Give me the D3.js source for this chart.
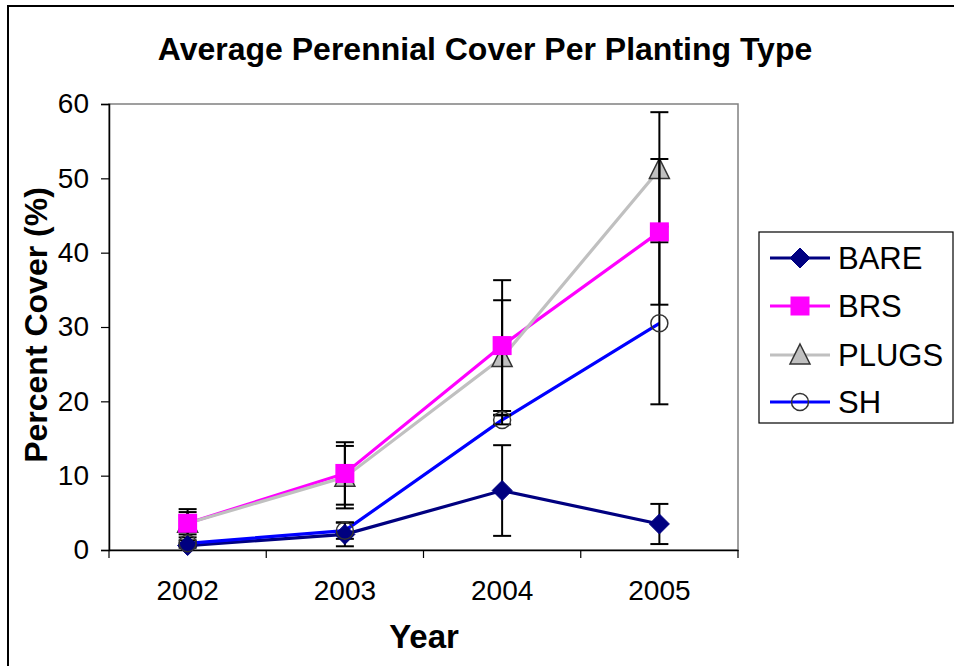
<!DOCTYPE html>
<html>
<head>
<meta charset="utf-8">
<script src="https://cdn.jsdelivr.net/npm/d3@7"></script>
<style>
  html, body { margin: 0; padding: 0; background: #fff; }
  svg { display: block; font-family: "Liberation Sans", Arial, sans-serif; }
</style>
</head>
<body>
<svg id="chart" width="954" height="666"></svg>
<script>
// Survey years on the x axis
const years = ["2002", "2003", "2004", "2005"];
// Mean perennial cover (%) per planting type
const bare  = [0.6, 2.1, 8.0, 3.5];
const brs   = [3.6, 10.3, 27.5, 42.8];
const plugs = [3.6, 9.8, 25.9, 51.2];
const sh    = [0.9, 2.6, 17.5, 30.5];
// Error bar half-widths (%)
const bareErr  = [0.3, 1.6, 6.1, 2.7];
const brsErr   = [1.9, 4.2, 8.8, 9.8];
const plugsErr = [1.5, 4.2, 7.7, 7.7];
const shErr    = [0.4, 1.1, 0.6, 10.9];
const yTicks = [0, 10, 20, 30, 40, 50, 60];

const series = [
  { name: "BARE",  values: bare,  err: bareErr,  color: "#000080", marker: "diamond" },
  { name: "BRS",   values: brs,   err: brsErr,   color: "#FF00FF", marker: "square" },
  { name: "PLUGS", values: plugs, err: plugsErr, color: "#C0C0C0", marker: "triangle" },
  { name: "SH",    values: sh,    err: shErr,    color: "#0000FF", marker: "circle" }
];

const svg = d3.select("#chart");
const plot = { left: 109, right: 738, top: 104, bottom: 550 };

const x = d3.scaleBand().domain(years).range([plot.left, plot.right]).padding(0);
const y = d3.scaleLinear().domain([0, 60]).range([plot.bottom, plot.top]);
const cx = d => x(d) + x.bandwidth() / 2;

// Outer chart frame
svg.append("rect")
  .attr("x", 8).attr("y", 6).attr("width", 960).attr("height", 680)
  .attr("fill", "none").attr("stroke", "#000").attr("stroke-width", 2);

// Plot area frame
svg.append("rect")
  .attr("x", plot.left).attr("y", plot.top)
  .attr("width", plot.right - plot.left).attr("height", plot.bottom - plot.top)
  .attr("fill", "none").attr("stroke", "#808080").attr("stroke-width", 1.5);

// Title
svg.append("text")
  .attr("x", 485).attr("y", 60)
  .attr("text-anchor", "middle")
  .attr("font-size", 32).attr("font-weight", "bold")
  .text("Average Perennial Cover Per Planting Type");

// Y axis
const yAxis = d3.axisLeft(y).tickValues(yTicks).tickSize(8).tickPadding(12);
const gy = svg.append("g").attr("transform", `translate(${plot.left},0)`).call(yAxis);
gy.select(".domain").attr("stroke", "#000").attr("stroke-width", 1.5);
gy.selectAll(".tick line").attr("stroke", "#000").attr("stroke-width", 1.2);
gy.selectAll(".tick text").attr("font-size", 28).attr("fill", "#000")
  .attr("font-family", "Liberation Sans, Arial, sans-serif");

// X axis: ticks sit on category boundaries, labels at centres
const xAxis = d3.axisBottom(x).tickSize(0).tickPadding(30);
const gx = svg.append("g").attr("transform", `translate(0,${plot.bottom})`).call(xAxis);
gx.select(".domain").attr("stroke", "#000").attr("stroke-width", 1.5);
gx.selectAll(".tick text").attr("font-size", 28).attr("fill", "#000")
  .attr("font-family", "Liberation Sans, Arial, sans-serif");
const bounds = years.map(d => x(d)).concat([x(years[years.length - 1]) + x.bandwidth()]);
svg.append("g").selectAll("line").data(bounds).join("line")
  .attr("x1", d => d).attr("x2", d => d)
  .attr("y1", plot.bottom).attr("y2", plot.bottom + 8)
  .attr("stroke", "#000").attr("stroke-width", 1.2);

// Axis titles
svg.append("text")
  .attr("x", 424).attr("y", 648)
  .attr("text-anchor", "middle")
  .attr("font-size", 33).attr("font-weight", "bold")
  .text("Year");
svg.append("text")
  .attr("transform", "translate(47,325) rotate(-90)")
  .attr("text-anchor", "middle")
  .attr("font-size", 32).attr("font-weight", "bold")
  .text("Percent Cover (%)");

// Marker drawing helper
function drawMarker(g, type, color, px, py, scale = 1) {
  if (type === "diamond") {
    const s = 10 * scale;
    g.append("path")
      .attr("d", `M${px},${py - s}L${px + s},${py}L${px},${py + s}L${px - s},${py}Z`)
      .attr("fill", color).attr("stroke", color).attr("stroke-width", 1);
  } else if (type === "square") {
    const s = 9.5 * scale;
    g.append("rect")
      .attr("x", px - s).attr("y", py - s).attr("width", 2 * s).attr("height", 2 * s)
      .attr("fill", color);
  } else if (type === "triangle") {
    const s = 10 * scale;
    g.append("path")
      .attr("d", `M${px},${py - s * 1.1}L${px + s},${py + s * 0.9}L${px - s},${py + s * 0.9}Z`)
      .attr("fill", color).attr("stroke", "#333").attr("stroke-width", 1.5);
  } else if (type === "circle") {
    g.append("circle")
      .attr("cx", px).attr("cy", py).attr("r", 8.5 * scale)
      .attr("fill", "none").attr("stroke", "#333").attr("stroke-width", 1.5);
  }
}

const line = d3.line().x((d, i) => cx(years[i])).y(d => y(d));

// Series lines
const gLines = svg.append("g");
series.forEach(s => {
  gLines.append("path").datum(s.values)
    .attr("d", line)
    .attr("fill", "none").attr("stroke", s.color).attr("stroke-width", 3.2);
});

// Triangles sit beneath the error bars
const gMarkLow = svg.append("g");
series.filter(s => s.marker === "triangle").forEach(s => {
  s.values.forEach((v, i) => drawMarker(gMarkLow, s.marker, s.color, cx(years[i]), y(v)));
});

// Error bars
const gErr = svg.append("g");
series.forEach(s => {
  s.values.forEach((v, i) => {
    const px = cx(years[i]);
    const lo = y(v - s.err[i]), hi = y(v + s.err[i]);
    gErr.append("line").attr("x1", px).attr("x2", px).attr("y1", lo).attr("y2", hi)
      .attr("stroke", "#000").attr("stroke-width", 2);
    [lo, hi].forEach(yy => {
      gErr.append("line").attr("x1", px - 9).attr("x2", px + 9).attr("y1", yy).attr("y2", yy)
        .attr("stroke", "#000").attr("stroke-width", 2);
    });
  });
});

// Remaining markers
const gMark = svg.append("g");
series.filter(s => s.marker !== "triangle").forEach(s => {
  s.values.forEach((v, i) => drawMarker(gMark, s.marker, s.color, cx(years[i]), y(v)));
});

// Legend
const legend = svg.append("g");
legend.append("rect")
  .attr("x", 759).attr("y", 232).attr("width", 194).attr("height", 191)
  .attr("fill", "#fff").attr("stroke", "#000").attr("stroke-width", 1.2);
const legendY = [258, 306, 355, 402];
series.forEach((s, i) => {
  const ly = legendY[i];
  legend.append("line")
    .attr("x1", 770).attr("x2", 830).attr("y1", ly).attr("y2", ly)
    .attr("stroke", s.color).attr("stroke-width", 3.2);
  drawMarker(legend, s.marker, s.color, 800, ly);
  legend.append("text")
    .attr("x", 838).attr("y", ly).attr("dy", "0.36em")
    .attr("font-size", 31)
    .text(s.name);
});
</script>
</body>
</html>
